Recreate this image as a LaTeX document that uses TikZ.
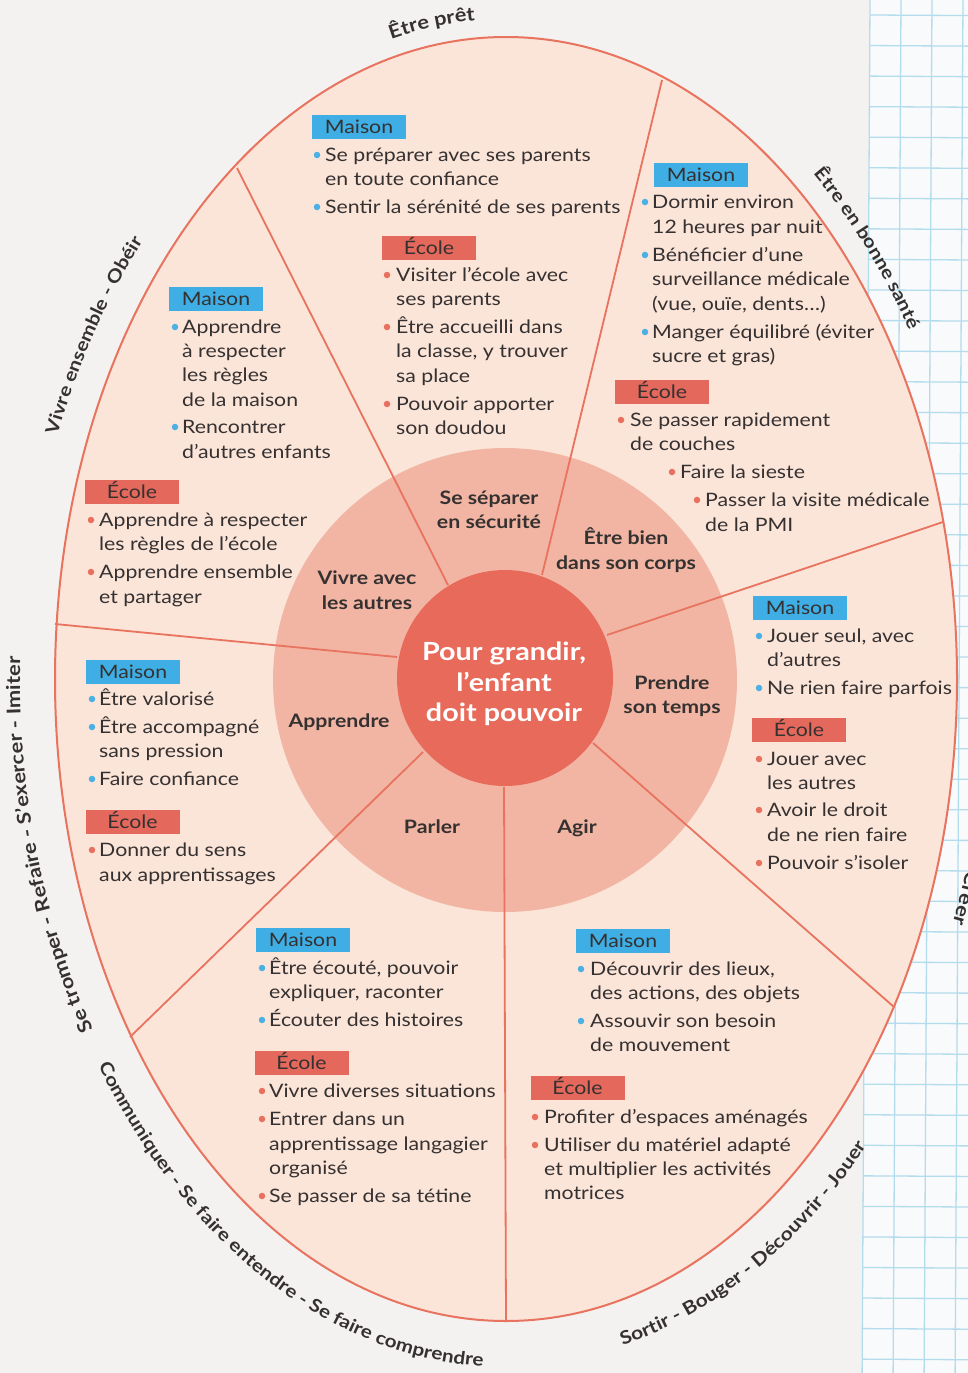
\documentclass[tikz,border=0pt]{standalone}
\usepackage{fontspec}
\setmainfont{Lato}[FakeStretch=1.15]
\usetikzlibrary{decorations.text}
\definecolor{pagebg}{HTML}{F4F2F0}
\definecolor{gridbg}{HTML}{F8FAFB}
\definecolor{gridln}{HTML}{B3DCEC}
\definecolor{eggfill}{HTML}{FBE4D8}
\definecolor{eggline}{HTML}{E8735F}
\definecolor{midcirc}{HTML}{F2B5A3}
\definecolor{corec}{HTML}{E86A5B}
\definecolor{maisonc}{HTML}{3EAEE4}
\definecolor{ecolec}{HTML}{E4685B}
\definecolor{txt}{HTML}{353131}
\definecolor{dotb}{HTML}{4BB0E3}
\definecolor{dotr}{HTML}{E8705E}
\newcommand\bodyf{\fontsize{18.5}{24}\selectfont}
\newcommand\boldf{\fontsize{18.5}{24.5}\selectfont\bfseries}
\newcommand\coref{\fontsize{25}{30.5}\selectfont\bfseries}
\newcommand\tl[4]{\node[tline] (#1) at (#2,#3+6.5) {#4};}
\newcommand\bu[4]{\node[#4] (#1) at (#2,#3) {};}
\tikzset{
  tline/.style={anchor=base west, inner sep=0pt, font=\bodyf, text=txt},
  mbox/.style={fill=maisonc, minimum width=94pt, minimum height=24pt, inner sep=0pt,
    font=\bodyf, text=txt, text height=13pt, text depth=0pt},
  ebox/.style={mbox, fill=ecolec},
  dotB/.style={circle, fill=dotb, minimum size=6.5pt, inner sep=0pt},
  dotR/.style={circle, fill=dotr, minimum size=6.5pt, inner sep=0pt},
  inlab/.style={align=center, font=\boldf, text=txt, inner sep=0pt},
  spoke/.style={draw=eggline, line width=1.8pt},
  gline/.style={draw=gridln, line width=1.3pt},
  arctext/.style 2 args={decorate, decoration={text along path, text align=center,
    text={|\fontsize{#1}{20}\selectfont\bfseries\color{txt}|#2}}},
}
\begin{document}
\begin{tikzpicture}[x=1pt, y=-1pt]
\useasboundingbox (0,0) rectangle (968,1373);
\fill[pagebg] (0,0) rectangle (968,1373);
% grid paper on the right
\begin{scope}[rotate around={-0.33:(870,0)}]
  \fill[gridbg] (870,-40) rectangle (1020,1420);
  \foreach \gx in {870,901,932,963,994} \draw[gline] (\gx,-40) -- (\gx,1420);
  \foreach \k in {-1,...,46} \draw[gline] (870,15+30.55*\k) -- (1020,15+30.55*\k);
\end{scope}
% egg
\draw[eggline, fill=eggfill, line width=2pt] (506,679) ellipse[x radius=451, y radius=642];
\node[circle, fill=midcirc, minimum size=464pt, inner sep=0pt] (ring) at (505,680) {};
% spokes
\coordinate (oA) at (237,168); \coordinate (iA) at (448,585);
\coordinate (oB) at (662,80);  \coordinate (iB) at (542,575);
\coordinate (oC) at (943,522); \coordinate (iC) at (607,635);
\coordinate (oD) at (55,624);  \coordinate (iD) at (397,657);
\coordinate (oE) at (130,1037);\coordinate (iE) at (423,752);
\coordinate (oF) at (506,1321);\coordinate (iF) at (504,787);
\coordinate (oG) at (894,1007);\coordinate (iG) at (593,743);
\foreach \s in {A,B,C,D,E,F,G} \draw[spoke] (i\s) -- (o\s);
\node[circle, fill=corec, minimum size=216pt, inner sep=0pt] (core) at (505,678) {};
\node[align=center, font=\coref, text=white, inner sep=0pt] (coretxt) at (504,684) {Pour grandir,\\l’enfant\\doit pouvoir};
% inner labels
\node[inlab] (lSep) at (489,510) {Se séparer\\en sécurité};
\node[inlab] (lBien) at (626,550) {Être bien\\dans son corps};
\node[inlab] (lViv) at (367,590) {Vivre avec\\les autres};
\node[inlab] (lApp) at (339,722) {Apprendre};
\node[inlab] (lPre) at (672,696) {Prendre\\son temps};
\node[inlab] (lPar) at (432,827) {Parler};
\node[inlab] (lAgi) at (577,828) {Agir};
% outer curved labels
\path[arctext={19}{Être prêt}] ([shift={(506,679)}]245.3:469 and 660) arc[start angle=245.3, end angle=277.3, x radius=469, y radius=660];
\path[arctext={18}{Être en bonne santé}] ([shift={(506,679)}]298.5:474 and 663) arc[start angle=298.5, end angle=338.5, x radius=474, y radius=663];
\path[arctext={18}{Vivre ensemble - Obéir}] ([shift={(506,679)}]191:482 and 666) arc[start angle=191, end angle=233, x radius=482, y radius=666];
\path[arctext={19}{Se tromper - Refaire - S’exercer - Imiter}] ([shift={(506,679)}]136.5:486 and 664) arc[start angle=136.5, end angle=192.5, x radius=486, y radius=664];
\path[arctext={19}{Créer}] ([shift={(506,679)}]4.5:480.5 and 663) arc[start angle=4.5, end angle=34.5, x radius=480.5, y radius=663];
\path[arctext={18}{Communiquer - Se faire entendre - Se faire comprendre}] ([shift={(506,679)}]154:493 and 688) arc[start angle=154, end angle=82, x radius=493, y radius=688];
\path[arctext={18.3}{Sortir - Bouger - Découvrir - Jouer}] ([shift={(506,679)}]85.5:492 and 686) arc[start angle=85.5, end angle=35.5, x radius=492, y radius=686];
% ---- top sector
\node[mbox] (m1) at (359,127) {Maison};
\bu{b1a}{317}{155}{dotB} \tl{t1a}{325}{155}{Se préparer avec ses parents}
\tl{t1b}{325}{179}{en toute confiance}
\bu{b1c}{317}{207}{dotB} \tl{t1c}{325}{207}{Sentir la sérénité de ses parents}
\node[ebox] (e1) at (429,247.5) {École};
\bu{b1d}{387}{275}{dotR} \tl{t1d}{396}{275}{Visiter l’école avec}
\tl{t1e}{396}{299}{ses parents}
\bu{b1f}{387}{327}{dotR} \tl{t1f}{396}{327}{Être accueilli dans}
\tl{t1g}{396}{351}{la classe, y trouver}
\tl{t1h}{396}{376}{sa place}
\bu{b1i}{387}{404}{dotR} \tl{t1i}{396}{404}{Pouvoir apporter}
\tl{t1j}{396}{428}{son doudou}
% ---- top right sector
\node[mbox] (m2) at (701,175) {Maison};
\bu{b2a}{645}{202}{dotB} \tl{t2a}{652}{202}{Dormir environ}
\tl{t2b}{652}{227}{12 heures par nuit}
\bu{b2c}{645}{255}{dotB} \tl{t2c}{652}{255}{Bénéficier d’une}
\tl{t2d}{652}{279}{surveillance médicale}
\tl{t2e}{652}{304}{(vue, ouïe, dents…)}
\bu{b2f}{645}{332}{dotB} \tl{t2f}{652}{332}{Manger équilibré (éviter}
\tl{t2g}{652}{356}{sucre et gras)}
\node[ebox] (e2) at (662,392) {École};
\bu{b2h}{621}{420}{dotR} \tl{t2h}{630}{420}{Se passer rapidement}
\tl{t2i}{630}{444}{de couches}
\bu{b2j}{672}{472}{dotR} \tl{t2j}{680}{472}{Faire la sieste}
\bu{b2k}{697}{500}{dotR} \tl{t2k}{705}{500}{Passer la visite médicale}
\tl{t2l}{705}{525}{de la PMI}
% ---- upper left sector
\node[mbox] (m3) at (216,299) {Maison};
\bu{b3a}{175}{327}{dotB} \tl{t3a}{182}{327}{Apprendre}
\tl{t3b}{182}{351}{à respecter}
\tl{t3c}{182}{375}{les règles}
\tl{t3d}{182}{400}{de la maison}
\bu{b3e}{175}{427}{dotB} \tl{t3e}{182}{427}{Rencontrer}
\tl{t3f}{182}{452}{d’autres enfants}
\node[ebox] (e3) at (132,492) {École};
\bu{b3g}{91}{520}{dotR} \tl{t3g}{99}{520}{Apprendre à respecter}
\tl{t3h}{99}{544}{les règles de l’école}
\bu{b3i}{91}{572}{dotR} \tl{t3i}{99}{572}{Apprendre ensemble}
\tl{t3j}{99}{597}{et partager}
% ---- left sector
\node[mbox] (m4) at (133,672) {Maison};
\bu{b4a}{92}{699}{dotB} \tl{t4a}{99}{699}{Être valorisé}
\bu{b4b}{92}{727}{dotB} \tl{t4b}{99}{727}{Être accompagné}
\tl{t4c}{99}{751}{sans pression}
\bu{b4d}{92}{779}{dotB} \tl{t4d}{99}{779}{Faire confiance}
\node[ebox] (e4) at (132.5,822) {École};
\bu{b4e}{92}{850}{dotR} \tl{t4e}{99}{850}{Donner du sens}
\tl{t4f}{99}{875}{aux apprentissages}
% ---- right sector
\node[mbox] (m5) at (800,608) {Maison};
\bu{b5a}{759}{636}{dotB} \tl{t5a}{767}{636}{Jouer seul, avec}
\tl{t5b}{767}{660}{d’autres}
\bu{b5c}{759}{688}{dotB} \tl{t5c}{767}{688}{Ne rien faire parfois}
\node[ebox] (e5) at (799,730) {École};
\bu{b5d}{759}{759}{dotR} \tl{t5d}{767}{759}{Jouer avec}
\tl{t5e}{767}{783}{les autres}
\bu{b5f}{759}{810}{dotR} \tl{t5f}{767}{810}{Avoir le droit}
\tl{t5g}{767}{835}{de ne rien faire}
\bu{b5h}{759}{863}{dotR} \tl{t5h}{767}{863}{Pouvoir s’isoler}
% ---- bottom left sector
\node[mbox] (m6) at (303,940) {Maison};
\bu{b6a}{262}{968}{dotB} \tl{t6a}{269}{968}{Être écouté, pouvoir}
\tl{t6b}{269}{992}{expliquer, raconter}
\bu{b6c}{262}{1020}{dotB} \tl{t6c}{269}{1020}{Écouter des histoires}
\node[ebox] (e6) at (301.5,1062.5) {École};
\bu{b6d}{262}{1091}{dotR} \tl{t6d}{269}{1091}{Vivre diverses situations}
\bu{b6e}{262}{1119}{dotR} \tl{t6e}{269}{1119}{Entrer dans un}
\tl{t6f}{269}{1144}{apprentissage langagier}
\tl{t6g}{269}{1168}{organisé}
\bu{b6h}{262}{1196}{dotR} \tl{t6h}{269}{1196}{Se passer de sa tétine}
% ---- bottom right sector
\node[mbox] (m7) at (623,941) {Maison};
\bu{b7a}{581}{969}{dotB} \tl{t7a}{590}{969}{Découvrir des lieux,}
\tl{t7b}{590}{993}{des actions, des objets}
\bu{b7c}{581}{1021}{dotB} \tl{t7c}{590}{1021}{Assouvir son besoin}
\tl{t7d}{590}{1045}{de mouvement}
\node[ebox] (e7) at (577.5,1088) {École};
\bu{b7e}{535}{1117}{dotR} \tl{t7e}{544}{1117}{Profiter d’espaces aménagés}
\bu{b7f}{535}{1145}{dotR} \tl{t7f}{544}{1145}{Utiliser du matériel adapté}
\tl{t7g}{544}{1169}{et multiplier les activités}
\tl{t7h}{544}{1193}{motrices}
\end{tikzpicture}
\end{document}
